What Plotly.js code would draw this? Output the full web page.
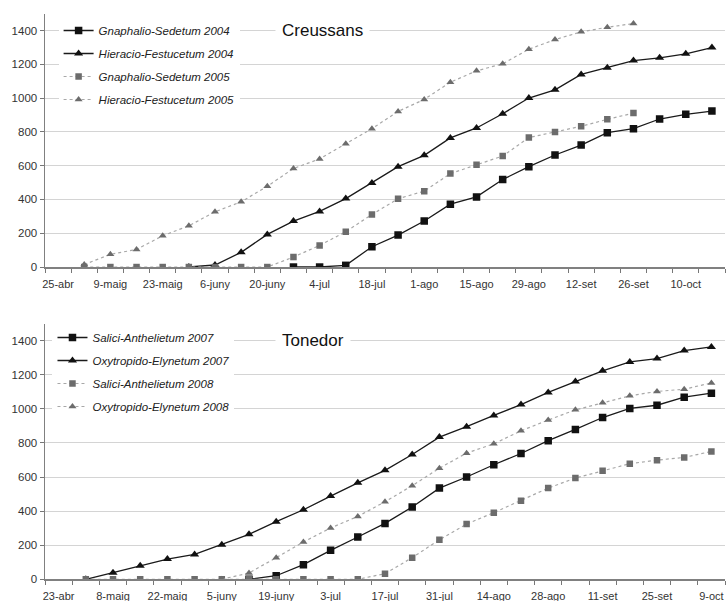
<!DOCTYPE html>
<html>
<head>
<meta charset="utf-8">
<script src="https://cdn.plot.ly/plotly-3.0.1.min.js"></script>
<style>
html,body{margin:0;padding:0;background:#fff;}
#chart{width:726px;height:601px;}
</style>
</head>
<body>
<div id="chart"></div>
<script>
// ---------- Data: Creussans (top) ----------
const catsTop = ['25-abr','2-maig','9-maig','16-maig','23-maig','30-maig','6-juny','13-juny','20-juny','27-juny','4-jul','11-jul','18-jul','25-jul','1-ago','8-ago','15-ago','22-ago','29-ago','5-set','12-set','19-set','26-set','3-oct','10-oct','17-oct'];
const gnaphalio2004 = [null,null,null,null,null,null,null,null,null,0,0,10,120,189,272,372,415,518,594,663,722,795,819,876,904,923];
const hieracio2004  = [null,null,null,null,null,0,12,87,193,272,329,405,498,594,661,764,823,907,1000,1049,1140,1179,1222,1238,1262,1299];
const gnaphalio2005 = [null,0,0,0,0,0,0,0,0,59,128,209,311,404,449,553,606,657,766,799,833,874,911,null,null,null];
const hieracio2005  = [null,15,75,104,185,244,327,386,478,583,640,730,819,921,992,1094,1161,1203,1289,1346,1392,1419,1441,null,null,null];

// ---------- Data: Tonedor (bottom) ----------
const catsBot = ['23-abr','1-maig','8-maig','15-maig','22-maig','29-maig','5-juny','12-juny','19-juny','26-juny','3-jul','10-jul','17-jul','24-jul','31-jul','7-ago','14-ago','21-ago','28-ago','4-set','11-set','18-set','25-set','2-oct','9-oct'];
const salici2007 = [null,null,null,null,null,null,null,0,21,86,170,248,328,424,535,600,672,738,813,879,949,1002,1021,1068,1092];
const oxytropido2007 = [null,0,39,80,119,146,203,264,338,408,488,566,639,732,834,895,961,1025,1096,1160,1223,1275,1295,1342,1363];
const salici2008 = [null,0,0,0,0,0,0,0,0,0,0,0,33,127,232,324,391,461,535,594,637,678,699,715,750];
const oxytropido2008 = [null,null,null,null,null,null,0,37,127,219,301,369,455,549,652,740,795,871,934,994,1035,1076,1102,1115,1152];

const yTicks = [0,200,400,600,800,1000,1200,1400];

const FONT = 'Liberation Sans, Arial, sans-serif';
const idx = arr => arr.map((_, i) => i);

function styleFor(kind) {
  const black = kind.startsWith('black');
  const sym = kind.endsWith('Square') ? 'square' : 'triangle-up';
  return {
    mode: 'lines+markers',
    line: black ? {color:'#1a1a1a', width:1.3} : {color:'#a8a8a8', width:1.2, dash:'dot'},
    marker: {symbol: sym, color: black ? '#111' : '#6c6c6c',
             size: black ? (sym==='square' ? 7.5 : 8) : (sym==='square' ? 6.5 : 7)}
  };
}

function tr(name, cats, vals, kind, xa, ya, leg, grp) {
  return Object.assign({
    type:'scatter', name:name, x: idx(cats), y: vals, xaxis: xa, yaxis: ya,
    legend: leg, legendgroup: grp, connectgaps:false, hoverinfo:'skip'
  }, styleFor(kind));
}

const traces = [
  tr('Gnaphalio-Sedetum 2004', catsTop, gnaphalio2004, 'blackSquare', 'x', 'y', 'legend', 'a1'),
  tr('Hieracio-Festucetum 2004', catsTop, hieracio2004, 'blackTri', 'x', 'y', 'legend', 'a2'),
  tr('Gnaphalio-Sedetum 2005', catsTop, gnaphalio2005, 'greySquare', 'x', 'y', 'legend', 'a3'),
  tr('Hieracio-Festucetum 2005', catsTop, hieracio2005, 'greyTri', 'x', 'y', 'legend', 'a4'),
  tr('Salici-Anthelietum 2007', catsBot, salici2007, 'blackSquare', 'x2', 'y2', 'legend2', 'b1'),
  tr('Oxytropido-Elynetum 2007', catsBot, oxytropido2007, 'blackTri', 'x2', 'y2', 'legend2', 'b2'),
  tr('Salici-Anthelietum 2008', catsBot, salici2008, 'greySquare', 'x2', 'y2', 'legend2', 'b3'),
  tr('Oxytropido-Elynetum 2008', catsBot, oxytropido2008, 'greyTri', 'x2', 'y2', 'legend2', 'b4')
];

function xAxis(cats, anchor) {
  const tv = idx(cats).filter(i => i % 2 === 0);
  return {
    domain:[0,1], anchor: anchor, range:[-0.5, cats.length - 0.5],
    tickmode:'array', tickvals: tv, ticktext: tv.map(i => cats[i]),
    ticks:'outside', ticklen:6, tickcolor:'rgba(0,0,0,0)',
    minor:{tickmode:'linear', tick0:0.5, dtick:1, ticks:'outside', ticklen:4, tickcolor:'#777', tickwidth:1, showgrid:false},
    showline:true, linecolor:'#808080', linewidth:1.5,
    showgrid:false, zeroline:false,
    tickfont:{family:FONT, size:11, color:'#333'}, fixedrange:true
  };
}
function yAxis(domain, anchor) {
  return {
    domain: domain, anchor: anchor, range:[0,1500],
    tickmode:'array', tickvals: yTicks, ticktext: yTicks.map(String),
    ticks:'outside', ticklen:4, tickcolor:'#777',
    showline:true, linecolor:'#808080', linewidth:1.5,
    showgrid:true, gridcolor:'#d4d4d4', gridwidth:1, zeroline:false,
    tickfont:{family:FONT, size:11.5, color:'#333'}, fixedrange:true
  };
}
function legendBox(x, ytop) {
  return {
    x:x, xanchor:'left', y:ytop, yanchor:'top',
    bgcolor:'#ffffff', borderwidth:0,
    font:{family:FONT, size:11.5, color:'#222', style:'italic'},
    traceorder:'grouped', tracegroupgap:4, itemwidth:30
  };
}

const layout = {
  width:726, height:601,
  margin:{l:45, r:1, t:0, b:0},
  paper_bgcolor:'#fff', plot_bgcolor:'#fff',
  showlegend:true,
  xaxis: xAxis(catsTop, 'y'),
  yaxis: yAxis([0.5557, 0.9774], 'x'),
  xaxis2: xAxis(catsBot, 'y2'),
  yaxis2: yAxis([0.0361, 0.4616], 'x2'),
  legend: legendBox(0.02, 1 - 16/601),
  legend2: legendBox(0.011, 1 - 323/601),
  annotations:[
    {text:'Creussans', xref:'paper', yref:'y', x:0.338, y:1400, xanchor:'left', yanchor:'middle',
     showarrow:false, bgcolor:'#fff', borderpad:6, font:{family:FONT, size:17, color:'#111'}},
    {text:'Tonedor', xref:'paper', yref:'y2', x:0.338, y:1400, xanchor:'left', yanchor:'middle',
     showarrow:false, bgcolor:'#fff', borderpad:6, font:{family:FONT, size:17, color:'#111'}}
  ]
};

Plotly.newPlot('chart', traces, layout, {staticPlot:true, displayModeBar:false});
</script>
</body>
</html>
